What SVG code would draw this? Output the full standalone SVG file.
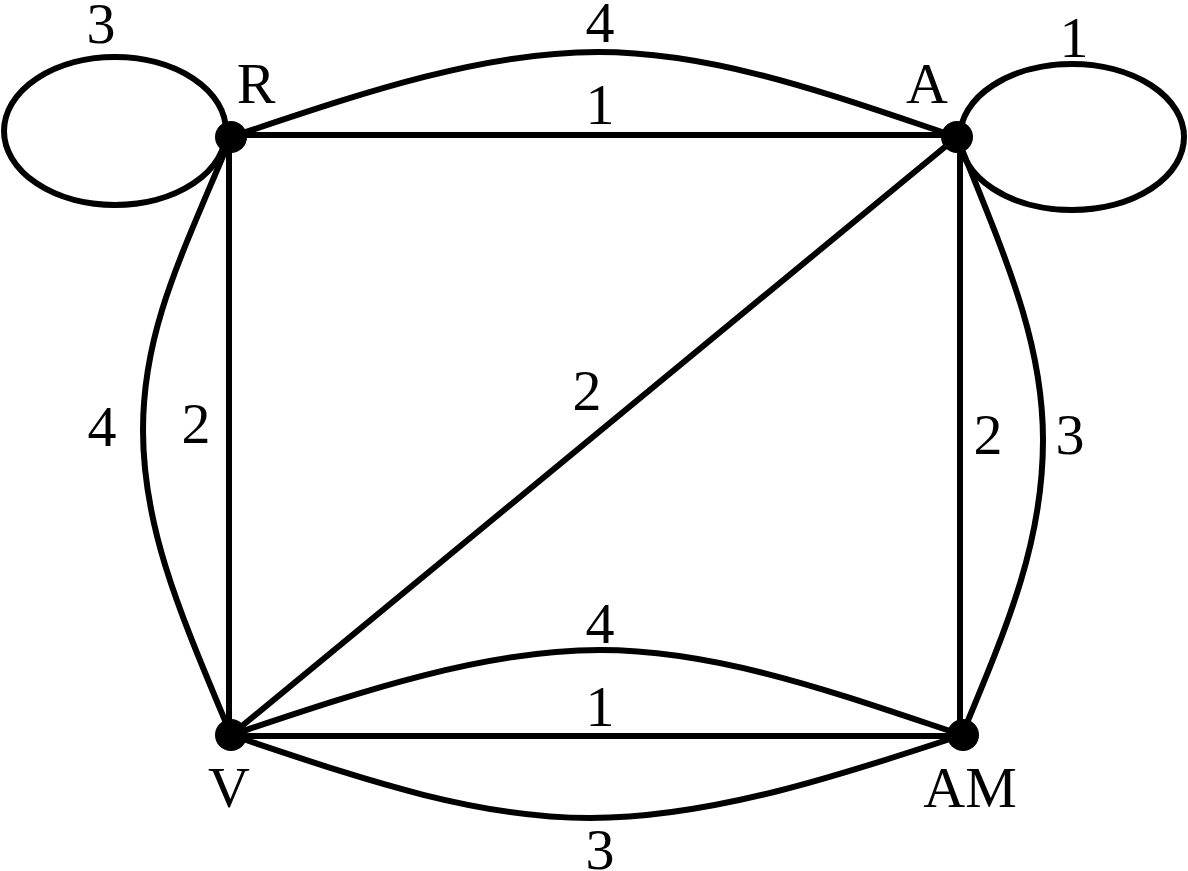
<svg xmlns="http://www.w3.org/2000/svg" width="1188" height="871" viewBox="0 0 1188 871">
<style>
.e{fill:none;stroke:#000;stroke-width:6}
.n{fill:#000}
text{font-family:"Liberation Serif","Times New Roman",serif;font-size:58px;fill:#000;text-anchor:middle}
</style>
<rect width="1188" height="871" fill="#fff"/>
<g id="connectors">
<ellipse class="e" cx="115" cy="131" rx="111" ry="74"/>
<ellipse class="e" cx="1072" cy="137" rx="112" ry="73"/>
<path class="e" d="M231,137 C351,97 478,52 598,52 C718,52 837,97 957,137"/>
<line class="e" x1="231" y1="135" x2="957" y2="135"/>
<line class="e" x1="229" y1="137" x2="229" y2="735"/>
<path class="e" d="M231,137 C181,257 143,330 143,430 C143,530 181,615 231,735"/>
<line class="e" x1="231" y1="735" x2="957" y2="137"/>
<line class="e" x1="960" y1="137" x2="960" y2="735"/>
<path class="e" d="M957,137 C1005,257 1043,340 1043,440 C1043,540 1010,620 962,735"/>
<path class="e" d="M231,735 C351,695 480,650 600,650 C720,650 842,695 962,735"/>
<line class="e" x1="231" y1="736" x2="962" y2="736"/>
<path class="e" d="M231,735 C351,775 470,818 590,818 C710,818 842,775 962,735"/>
<text x="101" y="43">3</text>
<text x="1074" y="57">1</text>
<text x="600" y="42">4</text>
<text x="600" y="124">1</text>
<text x="102" y="446">4</text>
<text x="196" y="443">2</text>
<text x="587" y="410">2</text>
<text x="988" y="454">2</text>
<text x="1070" y="454">3</text>
<text x="600" y="643">4</text>
<text x="600" y="726">1</text>
<text x="600" y="869">3</text>
</g>
<g id="node-R"><circle class="n" cx="231" cy="137" r="16"/><text x="256" y="103">R</text></g>
<g id="node-A"><circle class="n" cx="957" cy="137" r="16"/><text x="927" y="103">A</text></g>
<g id="node-V"><circle class="n" cx="231" cy="735" r="16"/><text x="229" y="807">V</text></g>
<g id="node-AM"><circle class="n" cx="963" cy="735" r="16"/><text x="970" y="807">AM</text></g>
</svg>
